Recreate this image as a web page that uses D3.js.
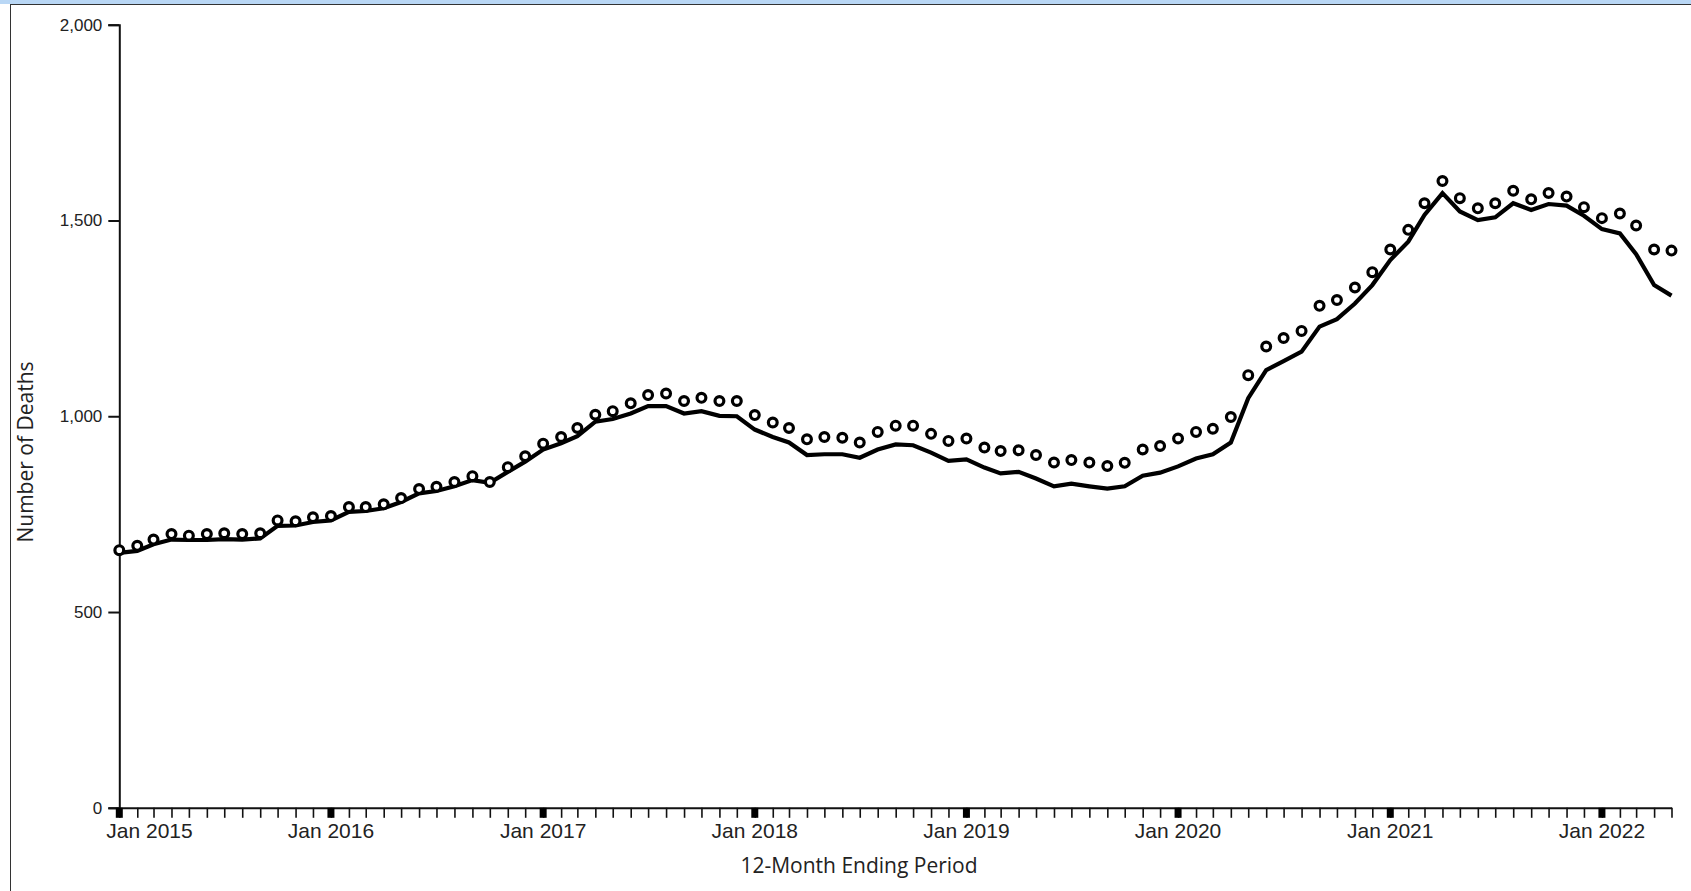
<!DOCTYPE html>
<html>
<head>
<meta charset="utf-8">
<script src="https://cdn.jsdelivr.net/npm/d3@7"></script>
<style>
  html, body { margin: 0; padding: 0; background: #fff; }
  svg { display: block; }
</style>
</head>
<body>
<svg id="chart" width="1691" height="891"></svg>
<script>
// ---- Data ----
const months = [
  "2015-01","2015-02","2015-03","2015-04","2015-05","2015-06","2015-07","2015-08","2015-09","2015-10","2015-11","2015-12",
  "2016-01","2016-02","2016-03","2016-04","2016-05","2016-06","2016-07","2016-08","2016-09","2016-10","2016-11","2016-12",
  "2017-01","2017-02","2017-03","2017-04","2017-05","2017-06","2017-07","2017-08","2017-09","2017-10","2017-11","2017-12",
  "2018-01","2018-02","2018-03","2018-04","2018-05","2018-06","2018-07","2018-08","2018-09","2018-10","2018-11","2018-12",
  "2019-01","2019-02","2019-03","2019-04","2019-05","2019-06","2019-07","2019-08","2019-09","2019-10","2019-11","2019-12",
  "2020-01","2020-02","2020-03","2020-04","2020-05","2020-06","2020-07","2020-08","2020-09","2020-10","2020-11","2020-12",
  "2021-01","2021-02","2021-03","2021-04","2021-05","2021-06","2021-07","2021-08","2021-09","2021-10","2021-11","2021-12",
  "2022-01","2022-02","2022-03","2022-04","2022-05"
];
// Reported (line)
const reported = [
  651,656,673,685,684,684,686,685,688,720,
  721,730,734,756,758,765,781,803,809,821,
  837,830,858,884,915,931,949,986,993,1007,
  1026,1026,1007,1013,1001,1000,966,947,933,901,
  903,903,894,915,928,926,907,886,890,869,
  854,858,841,821,828,821,815,821,848,856,
  872,892,903,933,1046,1118,1141,1165,1229,1248,
  1288,1335,1399,1446,1514,1570,1523,1501,1508,1544,
  1527,1542,1538,1512,1478,1467,1414,1335,1308
];
// Predicted (circles)
const predicted = [
  658,669,685,699,695,699,701,699,701,734,
  732,742,745,768,768,775,791,814,820,832,
  847,832,870,898,930,947,970,1004,1013,1033,
  1054,1058,1039,1047,1039,1039,1003,984,970,941,
  947,945,933,960,976,976,955,937,943,920,
  911,913,901,882,888,882,873,881,915,924,
  943,960,968,998,1105,1178,1200,1218,1282,1297,
  1329,1368,1426,1476,1544,1601,1557,1531,1544,1576,
  1554,1570,1561,1534,1506,1518,1487,1426,1423
];
const yTicks = [0, 500, 1000, 1500, 2000];
const xTickLabels = ["Jan 2015","Jan 2016","Jan 2017","Jan 2018","Jan 2019","Jan 2020","Jan 2021","Jan 2022"];
const xTitle = "12-Month Ending Period";
const yTitle = "Number of Deaths";

// ---- Drawing ----
(function () {
const parse = d3.timeParse("%Y-%m");
const dates = months.map(parse);
const data = dates.map((d, i) => ({ date: d, rep: reported[i], pred: predicted[i] }));

const svg = d3.select("#chart");
const W = 1691, H = 891;
const mLeft = 119.3, mRight = 1671.5, mTop = 24.7, mBottom = 807.8;

// frame
svg.append("rect").attr("x", 0).attr("y", 0).attr("width", W).attr("height", 4).attr("fill", "#b9d7f5");
svg.append("line").attr("x1", 10).attr("x2", W).attr("y1", 4.5).attr("y2", 4.5).attr("stroke", "#333").attr("stroke-width", 1);
svg.append("line").attr("x1", 10.5).attr("x2", 10.5).attr("y1", 4).attr("y2", H).attr("stroke", "#333").attr("stroke-width", 1);

const x = d3.scaleTime().domain([dates[0], dates[dates.length - 1]]).range([mLeft, mRight]);
const y = d3.scaleLinear().domain([0, 2000]).range([mBottom, mTop]);

// Y axis
const yAxis = svg.append("g").attr("transform", `translate(${mLeft},0)`)
  .call(d3.axisLeft(y).tickValues(yTicks).tickSize(11).tickSizeOuter(11).tickPadding(6).tickFormat(d3.format(",")));
yAxis.select(".domain").attr("stroke", "#111").attr("stroke-width", 2);
yAxis.selectAll(".tick line").attr("stroke", "#111").attr("stroke-width", 2);
yAxis.selectAll(".tick text").attr("font-family", "'Liberation Sans', Arial, sans-serif").attr("font-size", 17).attr("fill", "#222");

// X axis (monthly ticks)
const xAxis = svg.append("g").attr("transform", `translate(0,${mBottom})`)
  .call(d3.axisBottom(x).ticks(d3.timeMonth.every(1)).tickSize(10).tickSizeOuter(0).tickFormat(""));
xAxis.select(".domain").attr("stroke", "#111").attr("stroke-width", 2);
xAxis.selectAll(".tick line").attr("stroke", "#111").attr("stroke-width", 1.6);

// Year ticks (thick) and labels
const yearDates = xTickLabels.map(d3.timeParse("%b %Y"));
xAxis.selectAll("rect.year").data(yearDates).enter().append("rect")
  .attr("class", "year")
  .attr("x", d => x(d) - 3.5).attr("y", 0).attr("width", 7).attr("height", 10).attr("fill", "#000");
xAxis.selectAll("text.year").data(xTickLabels).enter().append("text")
  .attr("class", "year")
  .attr("x", (d, i) => i === 0 ? x(yearDates[i]) - 13 : x(yearDates[i]))
  .attr("y", 30.5)
  .attr("text-anchor", (d, i) => i === 0 ? "start" : "middle")
  .attr("font-family", "'Liberation Sans', Arial, sans-serif")
  .attr("font-size", 21).attr("fill", "#222")
  .text(d => d);

// Line
svg.append("path").datum(data)
  .attr("fill", "none").attr("stroke", "#000").attr("stroke-width", 4.2)
  .attr("d", d3.line().x(d => x(d.date)).y(d => y(d.rep)));

// Circles
svg.append("g").selectAll("circle").data(data).enter().append("circle")
  .attr("cx", d => x(d.date)).attr("cy", d => y(d.pred))
  .attr("r", 4.4).attr("fill", "#fff").attr("stroke", "#000").attr("stroke-width", 3.2);

// Titles
svg.append("text").attr("x", 859).attr("y", 873)
  .attr("text-anchor", "middle")
  .attr("font-family", "'Open Sans', sans-serif").attr("font-size", 21).attr("fill", "#222")
  .text(xTitle);
svg.append("text").attr("transform", "translate(33,452) rotate(-90)")
  .attr("text-anchor", "middle")
  .attr("font-family", "'Open Sans', sans-serif").attr("font-size", 21).attr("fill", "#222")
  .text(yTitle);
})();
</script>
</body>
</html>
